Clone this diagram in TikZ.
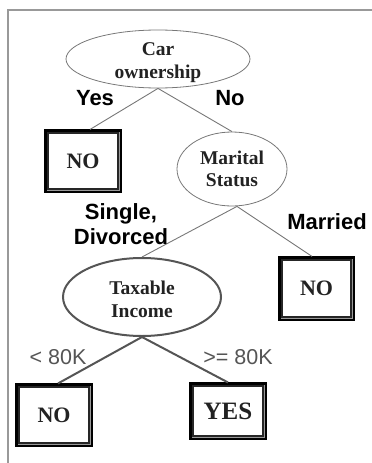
\documentclass[tikz,border=0pt]{standalone}
\usepackage{fontspec}
\setmainfont{Liberation Serif}
\newfontfamily\lsans{Liberation Sans}
\usetikzlibrary{shapes.geometric,calc}
\definecolor{thinline}{HTML}{777777}
\definecolor{thickline}{HTML}{555555}
\definecolor{nodetext}{HTML}{222222}
\definecolor{gaptone}{HTML}{999999}
\tikzset{
  decision/.style={ellipse, draw=thinline, line width=0.8pt, inner sep=0pt,
    align=center, text=nodetext, font=\fontsize{19.5}{22.5}\selectfont\bfseries},
  nodecaption/.style={inner sep=0pt, align=center, text=nodetext,
    font=\fontsize{19.5}{22.5}\selectfont\bfseries},
  leafbox/.style={rectangle, inner sep=0pt, fill=white, draw=black!85, line width=1.1pt,
    text=nodetext, font=\fontsize{22}{26}\selectfont\bfseries,
    preaction={draw=black, line width=8pt},
    preaction={draw=gaptone, line width=3pt}},
  branch/.style={draw=thinline, line width=0.9pt},
  heavybranch/.style={draw=thickline, line width=2pt},
  edgelabel/.style={font=\lsans\fontsize{22}{25}\selectfont\bfseries, text=black, align=center},
  cutlabel/.style={font=\lsans\fontsize{21.5}{25}\selectfont, text=thickline},
  frameline/.style={draw=gaptone, line width=1.5pt}
}
\begin{document}
\begin{tikzpicture}[x=1pt, y=-1pt]
\useasboundingbox (0,0) rectangle (372,463);
\coordinate (ftop) at (372,10);
\coordinate (fcorner) at (8,10);
\coordinate (fbot) at (8,463);
\draw[frameline] (ftop) -- (fcorner) -- (fbot);

\node[decision, minimum width=184pt, minimum height=58pt] (car) at (158,59) {};
\node[nodecaption] (cartext) at (158,62.5) {Car\\ownership};
\node[decision, minimum width=110pt, minimum height=74pt] (mar) at (232,169) {Marital\\Status};
\node[decision, draw=thickline, line width=2pt, minimum width=158pt, minimum height=78pt] (tax) at (142,297) {};
\node[nodecaption] (taxtext) at (142,299.5) {Taxable\\Income};

\node[leafbox, minimum width=70pt, minimum height=56pt] (no1) at (83,161) {NO};
\node[leafbox, minimum width=69pt, minimum height=57pt] (no2) at (316.5,288.5) {NO};
\node[leafbox, minimum width=70pt, minimum height=56pt] (no3) at (54,415) {NO};
\node[leafbox, minimum width=70pt, minimum height=50pt, font=\fontsize{25}{28}\selectfont\bfseries] (yes) at (228,411) {YES};

\draw[branch] (car.south) -- ($(no1.north)+(7,-3)$);
\draw[branch] (car.south) -- (mar.north);
\draw[branch] ($(mar.south)+(5,0)$) -- (tax.north);
\draw[branch] ($(mar.south)+(5,0)$) -- ($(no2.north)+(-4.5,-3)$);
\draw[heavybranch] (tax.south) -- ($(no3.north)+(4,-3)$);
\draw[heavybranch] (tax.south) -- ($(yes.north)+(0,-3)$);

\node[edgelabel] (lyes) at (95,98) {Yes};
\node[edgelabel] (lno) at (230,98) {No};
\node[edgelabel] (lsingle) at (121,224) {Single,\\Divorced};
\node[edgelabel] (lmarried) at (327,222) {Married};
\node[cutlabel] (llt) at (58,357) {< 80K};
\node[cutlabel] (lge) at (238,357) {>= 80K};
\end{tikzpicture}
\end{document}
